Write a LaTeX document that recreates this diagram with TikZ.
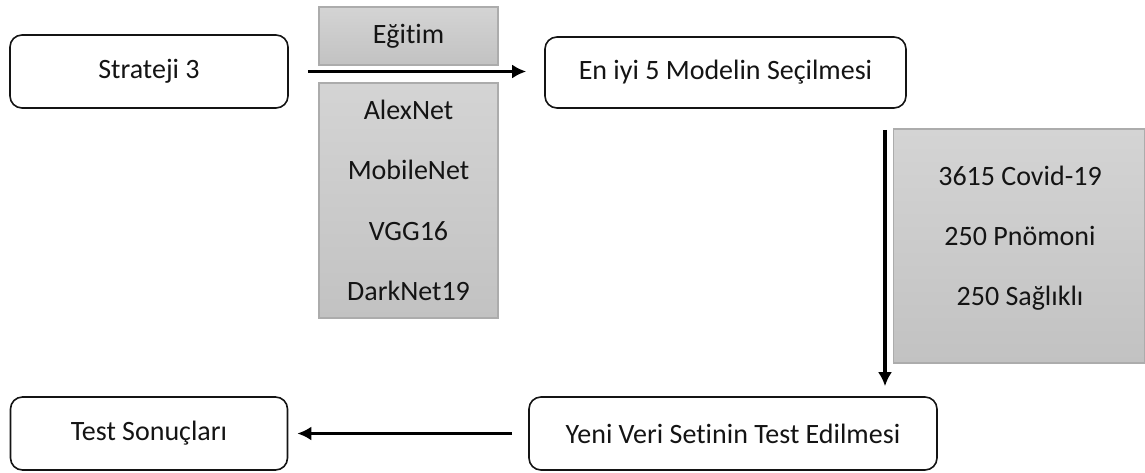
\documentclass[tikz,border=0pt]{standalone}
\usepackage{fontspec}
\setmainfont[RawFeature={-liga;-calt;-dlig}]{Carlito}
\usetikzlibrary{arrows.meta}
\definecolor{gtop}{RGB}{212,212,212}
\definecolor{gbot}{RGB}{194,194,194}
\definecolor{gline}{RGB}{172,172,172}
\definecolor{ink}{RGB}{20,20,20}
\tikzset{
  rbox/.style={draw=ink, line width=1.6pt, rounded corners=12pt, fill=white,
    anchor=center, inner sep=0pt, text=ink},
  gbox/.style={draw=gline, line width=1.5pt, top color=gtop, bottom color=gbot,
    anchor=center, inner sep=0pt, text=ink, align=center},
  arr/.style={draw=black, line width=3.4pt, -{Latex[length=14pt,width=14pt]}},
  lbl/.style={text=ink, align=center, inner sep=0pt}
}
\begin{document}
\begin{tikzpicture}[x=1pt,y=-1pt,font=\fontsize{28}{34}\selectfont]
\useasboundingbox (0,0) rectangle (1145,472);
% rounded boxes
\node[rbox, minimum width=278pt, minimum height=73pt] (s3) at (149,71.5) {Strateji 3};
\node[rbox, minimum width=361pt, minimum height=71pt] (eniyi) at (725.5,72.5) {En iyi 5 Modelin Seçilmesi};
\node[rbox, minimum width=408pt, minimum height=73pt] (yeni) at (733,433.5) {Yeni Veri Setinin Test Edilmesi};
\node[rbox, minimum width=277pt, minimum height=73pt] (test) at (149,433.5) {Test Sonuçları};
% gray boxes
\node[gbox, minimum width=179pt, minimum height=58pt] (egitim) at (408.5,36) {Eği\kern0pt t\kern0pt im};
\node[gbox, minimum width=179pt, minimum height=235pt, font=\fontsize{28}{60.3}\selectfont] (models) at (408.5,200.5) {AlexNet\\MobileNet\\VGG16\\DarkNet19};
\node[gbox, minimum width=251pt, minimum height=234pt] (data) at (1019,246) {};
\node[lbl, font=\fontsize{28}{60}\selectfont] (datatext) at (1020,238) {3615 Covid-19\\250 Pnömoni\\250 Sağlıklı};
% arrows
\coordinate (v) at (885,0);
\draw[arr, shorten <=19pt, shorten >=18pt] (s3.east) -- (eniyi.west |- s3.east);
\draw[arr, shorten <=21pt, shorten >=10pt] (eniyi.south -| v) -- (yeni.north -| v);
\draw[arr, shorten <=16pt, shorten >=9pt] (yeni.west) -- (test.east);
\end{tikzpicture}
\end{document}
